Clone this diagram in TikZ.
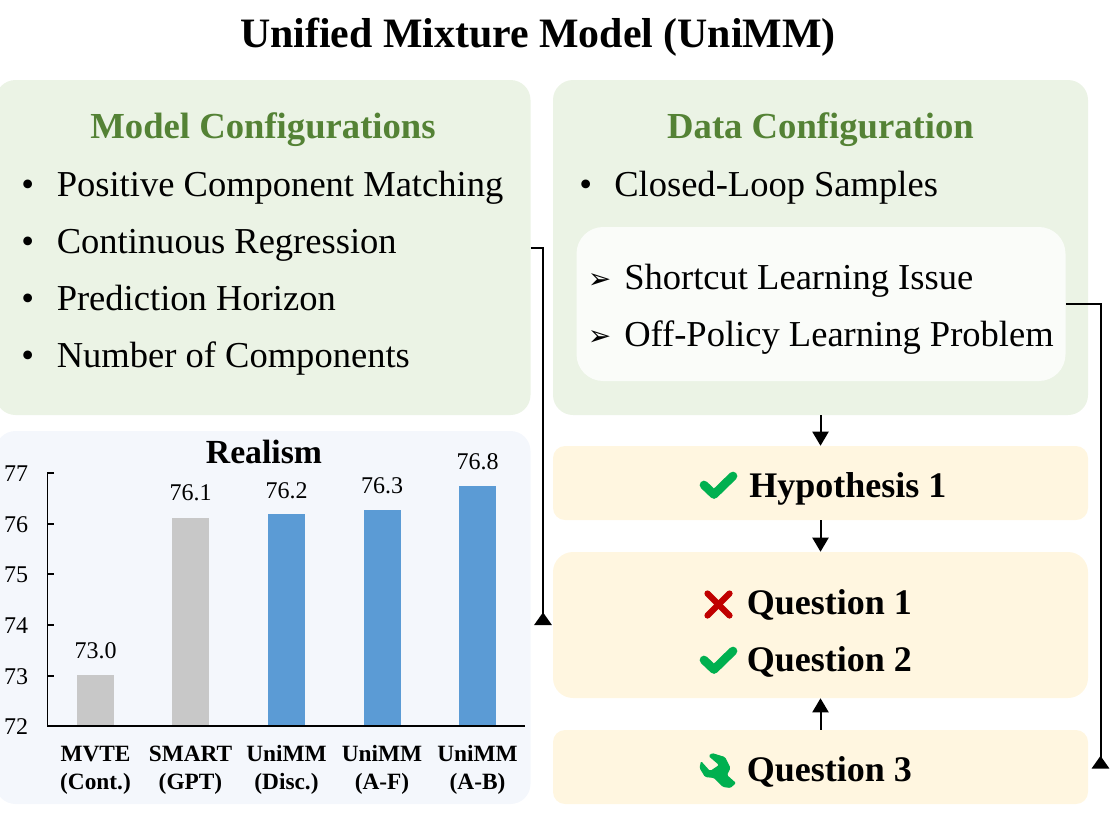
\documentclass[tikz,border=0pt]{standalone}
\usepackage{fontspec}
\setmainfont{Liberation Serif}
\newfontfamily\dejavu{DejaVu Sans}
\usetikzlibrary{arrows.meta,positioning,calc}
\definecolor{panelgreen}{HTML}{EBF3E5}
\definecolor{paneltext}{HTML}{548235}
\definecolor{panelwhite}{HTML}{FAFCF9}
\definecolor{panelyellow}{HTML}{FFF6E0}
\definecolor{panelblue}{HTML}{F4F7FC}
\definecolor{bargray}{HTML}{C8C8C8}
\definecolor{barblue}{HTML}{5B9BD5}
\definecolor{okgreen}{HTML}{00B050}
\definecolor{badred}{HTML}{C00000}
\tikzset{
  panel/.style={rounded corners=#1,minimum width=535*0.75pt,inner sep=0pt},
  panel/.default=15pt,
  body/.style={anchor=base west,inner sep=0pt,font=\fontsize{27.4}{30}\selectfont},
  result/.style={anchor=base west,inner sep=0pt,font=\fontsize{27}{30}\selectfont\bfseries},
  head/.style={anchor=base,inner sep=0pt,font=\fontsize{27.5}{30}\selectfont\bfseries},
  tick/.style={anchor=base,inner sep=0pt,font=\fontsize{18}{20}\selectfont},
  barname/.style={anchor=base,inner sep=0pt,font=\fontsize{17.5}{20}\selectfont\bfseries},
  link/.style={line width=1.5pt,-{Triangle[reversed,width=13pt,length=9.5pt]}},
  step arrow/.style={line width=1.5pt,-{Triangle[width=12pt,length=10.5pt]}},
  icon/.style={line width=6.2*0.75pt,line cap=round,line join=round}
}
\begin{document}
\begin{tikzpicture}[x=0.75pt,y=-0.75pt]
\useasboundingbox (0,0) rectangle (1110,818);

\node[anchor=base,inner sep=0pt,font=\fontsize{31.4}{34}\selectfont\bfseries] (title) at (538,47) {Unified Mixture Model (UniMM)};

% panels
\node[panel,fill=panelgreen,minimum width=535*0.75pt,minimum height=335*0.75pt] (model) at (263,247.5) {};
\node[panel,fill=panelgreen,minimum height=335*0.75pt] (data) at (820.5,247.5) {};
\node[panel=20pt,fill=panelwhite,minimum width=489*0.75pt,minimum height=154*0.75pt] (issues) at (821,304) {};
\node[panel=9pt,fill=panelyellow,minimum height=74*0.75pt] (hyp) at (820.5,483) {};
\node[panel,fill=panelyellow,minimum height=146*0.75pt] (ques) at (820.5,625) {};
\node[panel=9pt,fill=panelyellow,minimum height=74*0.75pt] (fix) at (820.5,767) {};
\node[panel,fill=panelblue,minimum width=535*0.75pt,minimum height=373*0.75pt] (chart) at (263,617.5) {};

\node[head,text=paneltext] (modelhead) at (263,138) {Model Configurations};
\node[head,text=paneltext] (datahead) at (820.5,138) {Data Configuration};

\foreach \y/\n/\t in {196/a/Positive Component Matching,253/b/Continuous Regression,310/c/Prediction Horizon,367/d/Number of Components}
{
  \node[body] (dot\n) at (21,\y) {\textbullet};
  \node[body] (cfg\n) at (56.5,\y) {\t};
}
\node[body] (dote) at (579,196) {\textbullet};
\node[body] (closed) at (614,196) {Closed-Loop Samples};
\node[body,font=\fontsize{21}{24}\selectfont\dejavu] (tipa) at (587.5,288) {➢};
\node[body] (short) at (624,289) {Shortcut Learning Issue};
\node[body,font=\fontsize{21}{24}\selectfont\dejavu] (tipb) at (587.5,345) {➢};
\node[body] (off) at (624,346) {Off-Policy Learning Problem};

\node[result] (hypt) at (749,497) {Hypothesis 1};
\node[result] (qa) at (746.5,614) {Question 1};
\node[result] (qb) at (746.5,671) {Question 2};
\node[result] (qc) at (746.5,781) {Question 3};

% icons
\draw[icon,okgreen,line width=6.5pt] (704,485) -- (714,494.5) -- (733,476);
\draw[icon,okgreen,line width=6.5pt] (704,660) -- (714,669.5) -- (733,651);
\draw[icon,badred] (707.5,593.5) -- (729.5,615.5);
\draw[icon,badred] (729.5,593.5) -- (707.5,615.5);
\fill[okgreen,rounded corners=1pt] (712,753) -- (725,757) -- (730.5,768) -- (727,775) -- (736,783) -- (730.5,788) -- (723,787) -- (714,778) -- (705,777) -- (699.5,768) -- (701,761) -- (710,771) -- (719,765) -- (708.5,756) -- cycle;

% chart
\node[anchor=base,inner sep=0pt,font=\fontsize{25.3}{28}\selectfont\bfseries] (realism) at (264,463) {Realism};
\foreach \x/\top/\c/\v/\vy/\a/\b in {
  95.5/675/bargray/73.0/658/MVTE/(Cont.),
  190.5/517.5/bargray/76.1/500/SMART/(GPT),
  286.5/513.5/barblue/76.2/498/UniMM/(Disc.),
  382/510/barblue/76.3/493/UniMM/(A-F),
  477.5/486/barblue/76.8/469.5/UniMM/(A-B)}
{
  \fill[\c] (\x-18.5,\top) rectangle (\x+18.5,726);
  \node[tick] at (\x,\vy) {\v};
  \node[barname] at (\x,761) {\a};
  \node[barname] at (\x,789) {\b};
}
\draw[line width=1.3pt] (54,473) -- (47.5,473) -- (47.5,726) -- (525,726);
\foreach \y/\t in {473/77,524/76,574/75,625/74,676/73,726/72}
{
  \draw[line width=1.3pt] (47.5,\y) -- (54,\y);
  \node[tick,anchor=base] at (16,\y+8) {\t};
}

% connectors
\coordinate (leftend) at (543,625);
\coordinate (rightend) at (1100.5,768.5);
\draw[link] (model.east) -- (model.east-|leftend) -- (leftend);
\draw[link] (issues.east) -- (issues.east-|rightend) -- (rightend);
\draw[step arrow] (data.south) -- (hyp.north);
\draw[step arrow] (hyp.south) -- (ques.north);
\draw[step arrow] (fix.north) -- (ques.south);
\end{tikzpicture}
\end{document}
